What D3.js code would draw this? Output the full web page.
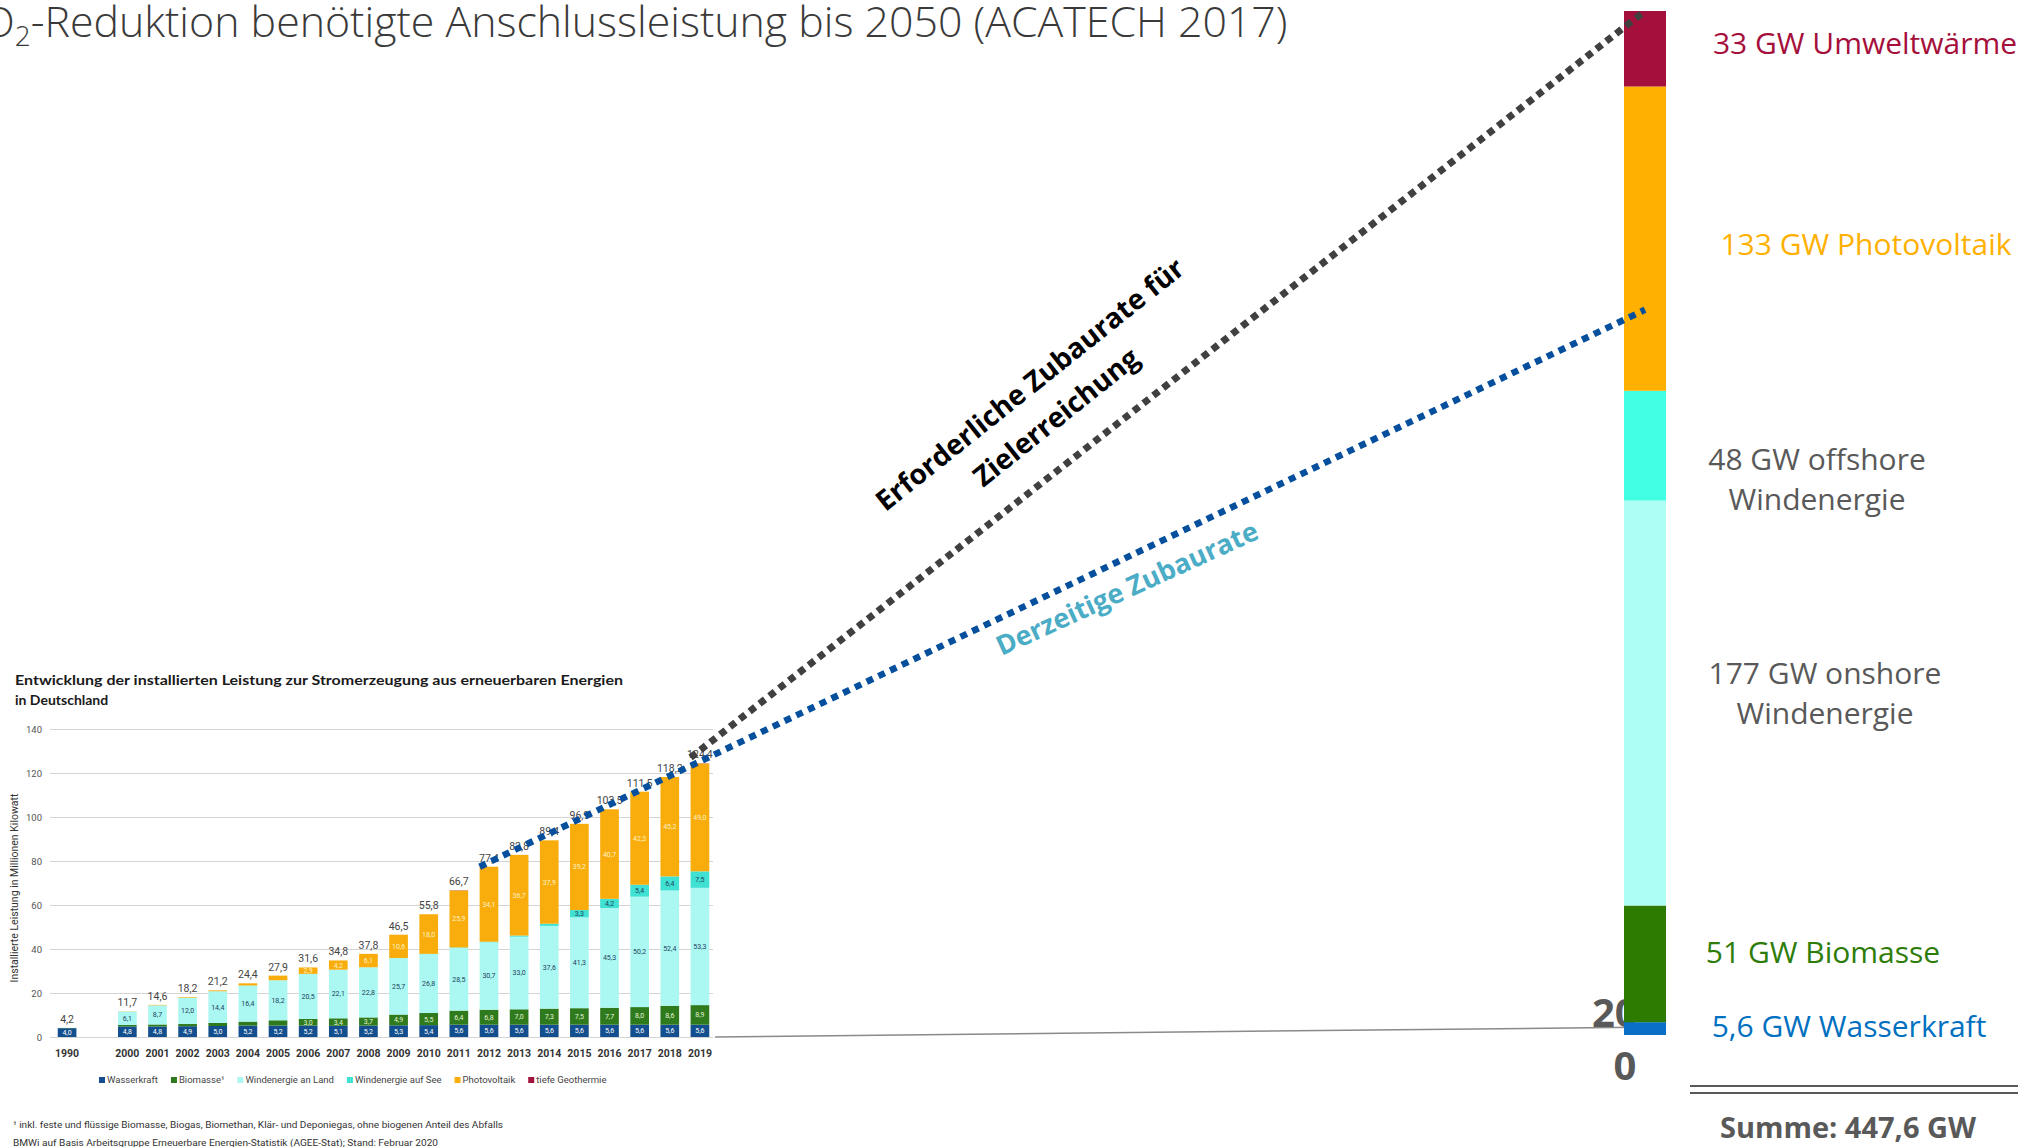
<!DOCTYPE html>
<html>
<head>
<meta charset="utf-8">
<script src="https://cdn.jsdelivr.net/npm/d3@7"></script>
<style>
  body { margin: 0; background: #fff; overflow: hidden; }
  svg { display: block; }
</style>
</head>
<body>
<div id="chart"></div>
<script>
// ---- small BMWi chart: installed capacity 1990, 2000-2019 (GW) ----
var years = ["1990", "2000", "2001", "2002", "2003", "2004", "2005", "2006", "2007", "2008", "2009",
             "2010", "2011", "2012", "2013", "2014", "2015", "2016", "2017", "2018", "2019"];
var wasserkraft = [4.0, 4.8, 4.8, 4.9, 5.0, 5.2, 5.2, 5.2, 5.1, 5.2, 5.3, 5.4, 5.6, 5.6, 5.6, 5.6, 5.6, 5.6, 5.6, 5.6, 5.6];
var biomasse    = [0.1, 0.7, 0.9, 1.0, 1.4, 1.8, 2.4, 3.0, 3.4, 3.7, 4.9, 5.5, 6.4, 6.8, 7.0, 7.3, 7.5, 7.7, 8.0, 8.6, 8.9];
var windLand    = [0.1, 6.1, 8.7, 12.0, 14.4, 16.4, 18.2, 20.5, 22.1, 22.8, 25.7, 26.8, 28.5, 30.7, 33.0, 37.6, 41.3, 45.3, 50.2, 52.4, 53.3];
var windSee     = [0, 0, 0, 0, 0, 0, 0, 0, 0, 0, 0, 0.1, 0.2, 0.2, 0.5, 1.0, 3.3, 4.2, 5.4, 6.4, 7.5];
var photovolt   = [0, 0.1, 0.2, 0.3, 0.4, 1.0, 2.1, 2.9, 4.2, 6.1, 10.6, 18.0, 25.9, 34.1, 36.7, 37.9, 39.2, 40.7, 42.3, 45.2, 49.0];
var geothermie  = [0, 0, 0, 0, 0, 0, 0, 0, 0, 0, 0, 0, 0.1, 0, 0, 0, 0, 0, 0, 0, 0.1];
var totals      = [4.2, 11.7, 14.6, 18.2, 21.2, 24.4, 27.9, 31.6, 34.8, 37.8, 46.5, 55.8, 66.7, 77.4, 82.8, 89.4, 96.9, 103.5, 111.5, 118.2, 124.4];

var seriesKeys   = ["wasser", "bio", "land", "see", "pv", "geo"];
var seriesNames  = ["Wasserkraft", "Biomasse¹", "Windenergie an Land", "Windenergie auf See", "Photovoltaik", "tiefe Geothermie"];
var seriesColors = ["#134f8e", "#2f7a1c", "#aaf8f1", "#3fe1d3", "#f8ad0c", "#a3123d"];
var labelColors  = ["#ffffff", "#e3f3d6", "#23405e", "#23405e", "#fff2c4", "#ffffff"];
var yTicks = [0, 20, 40, 60, 80, 100, 120, 140];

// ---- 2050 target bar (ACATECH 2017), GW ----
var targetKeys   = ["Wasserkraft", "Biomasse", "onshore", "offshore", "Photovoltaik", "Umweltwärme"];
var targetValues = [5.6, 51, 177, 48, 133, 33];
var targetColors = ["#0a6fc6", "#2e7b02", "#adfff5", "#40ffe2", "#ffb000", "#a50f3b"];
var targetLabels = [["5,6 GW Wasserkraft"], ["51 GW Biomasse"], ["177 GW onshore", "Windenergie"],
                    ["48 GW offshore", "Windenergie"], ["133 GW Photovoltaik"], ["33 GW Umweltwärme"]];
var targetLabelColors = ["#0070c0", "#2e7d0a", "#595959", "#595959", "#ffb000", "#a50f3b"];
var targetSum = "Summe: 447,6 GW";

// ---- growth-rate lines: from small chart (year, GW) up to 2050 bar (GW) ----
var trendNames     = ["Erforderliche Zubaurate für|Zielerreichung", "Derzeitige Zubaurate"];
var trendFromYear  = ["2019", "2012"];
var trendFromValue = [127, 77.4];
var trendToValue   = [447.6, 317];
var trendColors    = ["#404040", "#054f9c"];
var trendTextColors = ["#000000", "#4bacc6"];

var W = 2044, H = 1147;
var svg = d3.select("#chart").append("svg")
    .attr("width", W).attr("height", H);
svg.append("rect").attr("width", W).attr("height", H).attr("fill", "#fff");

var fmt = function(v) { return d3.format(".1f")(v).replace(".", ","); };

// ================= small chart =================
var slots = ["1990", "gap"].concat(years.slice(1));
var x = d3.scaleBand().domain(slots).range([52, 715]).paddingInner(0.38).paddingOuter(0.19);
var y = d3.scaleLinear().domain([0, 140]).range([1037, 729]);

var table = years.map(function(yr, i) {
    return {year: yr, wasser: wasserkraft[i], bio: biomasse[i], land: windLand[i],
            see: windSee[i], pv: photovolt[i], geo: geothermie[i], total: totals[i]};
});

var small = svg.append("g").attr("class", "small");

small.append("text").attr("x", 15).attr("y", 685)
    .attr("font-family", "Lato, 'Open Sans', sans-serif").attr("font-weight", 700).attr("font-size", 14)
    .attr("fill", "#1a1a1a").attr("textLength", 608).attr("lengthAdjust", "spacingAndGlyphs")
    .text("Entwicklung der installierten Leistung zur Stromerzeugung aus erneuerbaren Energien");
small.append("text").attr("x", 15).attr("y", 705)
    .attr("font-family", "Lato, 'Open Sans', sans-serif").attr("font-weight", 700).attr("font-size", 14)
    .attr("fill", "#1a1a1a").text("in Deutschland");

var yAxis = d3.axisLeft(y).tickValues(yTicks).tickSize(-663).tickPadding(8);
var gy = small.append("g").attr("transform", "translate(50,0)").call(yAxis);
gy.select(".domain").remove();
gy.selectAll(".tick line").attr("stroke", "#d4d4d4").attr("stroke-width", 1.2);
gy.selectAll(".tick text").attr("font-family", "Roboto, sans-serif").attr("font-size", 9.5).attr("fill", "#555");

small.append("text")
    .attr("transform", "translate(18,888) rotate(-90)")
    .attr("text-anchor", "middle")
    .attr("font-family", "Roboto, sans-serif").attr("font-size", 10.5).attr("fill", "#333")
    .text("Installierte Leistung in Millionen Kilowatt");

var stack = d3.stack().keys(seriesKeys)(table);

var layers = small.selectAll(".layer").data(stack).enter().append("g")
    .attr("class", "layer")
    .attr("fill", function(d, i) { return seriesColors[i]; });

layers.selectAll("rect").data(function(d) { return d; }).enter().append("rect")
    .attr("x", function(d) { return x(d.data.year); })
    .attr("width", x.bandwidth())
    .attr("y", function(d) { return y(d[1]); })
    .attr("height", function(d) { return Math.max(0, y(d[0]) - y(d[1])); });

// value labels inside the segments
stack.forEach(function(layer, li) {
    if (seriesKeys[li] === "geo") return;
    small.selectAll(".lab" + li)
        .data(layer.filter(function(d) {
            var v = d[1] - d[0];
            return li === 0 ? v > 0 : v >= 2.5;
        }))
        .enter().append("text")
        .attr("x", function(d) { return x(d.data.year) + x.bandwidth() / 2; })
        .attr("y", function(d) { return (y(d[0]) + y(d[1])) / 2 + 2.5; })
        .attr("text-anchor", "middle")
        .attr("font-family", "Roboto, sans-serif").attr("font-size", 7)
        .attr("fill", labelColors[li])
        .text(function(d) { return fmt(d[1] - d[0]); });
});

// totals above bars
small.selectAll(".total").data(table).enter().append("text")
    .attr("x", function(d) { return x(d.year) + x.bandwidth() / 2; })
    .attr("y", function(d) { return y(d.total) - 5; })
    .attr("text-anchor", "middle")
    .attr("font-family", "Roboto, sans-serif").attr("font-size", 10.5).attr("fill", "#444")
    .text(function(d) { return fmt(d.total); });

// year labels
small.selectAll(".year").data(years).enter().append("text")
    .attr("x", function(d) { return x(d) + x.bandwidth() / 2; })
    .attr("y", 1057)
    .attr("text-anchor", "middle")
    .attr("font-family", "Roboto, sans-serif").attr("font-weight", 700).attr("font-size", 10.5)
    .attr("fill", "#333")
    .text(function(d) { return d; });

// legend
var lx = 99;
seriesNames.forEach(function(name, i) {
    small.append("rect").attr("x", lx).attr("y", 1077).attr("width", 6).attr("height", 6)
        .attr("fill", seriesColors[i]);
    var t = small.append("text").attr("x", lx + 8).attr("y", 1083)
        .attr("font-family", "Roboto, sans-serif").attr("font-size", 9.5).attr("fill", "#444")
        .text(name);
    lx += 8 + t.node().getComputedTextLength() + 13;
});

// footnote
small.append("text").attr("x", 13).attr("y", 1128)
    .attr("font-family", "Roboto, sans-serif").attr("font-size", 9.5).attr("fill", "#333")
    .attr("textLength", 490).attr("lengthAdjust", "spacingAndGlyphs")
    .text("¹ inkl. feste und flüssige Biomasse, Biogas, Biomethan, Klär- und Deponiegas, ohne biogenen Anteil des Abfalls");
small.append("text").attr("x", 13).attr("y", 1146)
    .attr("font-family", "Roboto, sans-serif").attr("font-size", 9.5).attr("fill", "#333")
    .attr("textLength", 425).attr("lengthAdjust", "spacingAndGlyphs")
    .text("BMWi auf Basis Arbeitsgruppe Erneuerbare Energien-Statistik (AGEE-Stat); Stand: Februar 2020");

// ================= 2050 bar =================
var bx = d3.scaleBand().domain(["2050"]).range([1624, 1666]);
var by = d3.scaleLinear().domain([0, d3.sum(targetValues)]).range([1035, 11]);

// thin axis line linking both charts
svg.append("line")
    .attr("x1", x.range()[1]).attr("y1", y(0))
    .attr("x2", bx("2050") + bx.bandwidth() - 7).attr("y2", by(3.5))
    .attr("stroke", "#8a8a8a").attr("stroke-width", 1.5);

// remnants of the slide axis
svg.append("text").attr("x", 1592).attr("y", 1027)
    .attr("font-family", "'Open Sans', sans-serif").attr("font-weight", 700).attr("font-size", 40)
    .attr("fill", "#595959").text("20");
svg.append("text").attr("x", bx("2050") + 1).attr("y", 1080).attr("text-anchor", "middle")
    .attr("font-family", "'Open Sans', sans-serif").attr("font-weight", 700).attr("font-size", 40)
    .attr("fill", "#595959").text("0");

var cum = 0;
var targetSegs = targetValues.map(function(v, i) {
    var s = {key: targetKeys[i], y0: cum, y1: cum + v, color: targetColors[i]};
    cum += v;
    return s;
});
svg.selectAll(".tseg").data(targetSegs).enter().append("rect")
    .attr("x", bx("2050")).attr("width", bx.bandwidth())
    .attr("y", function(d) { return by(d.y1); })
    .attr("height", function(d) { return by(d.y0) - by(d.y1); })
    .attr("fill", function(d) { return d.color; });

// right-hand labels (x centre, first baseline)
var labelPos = [[1849, 1037], [1823, 963], [1825, 684], [1817, 470], [1866, 255], [1865, 54]];
targetLabels.forEach(function(lines, i) {
    var t = svg.append("text")
        .attr("text-anchor", "middle")
        .attr("font-family", "'Open Sans', sans-serif").attr("font-size", 30)
        .attr("fill", targetLabelColors[i]);
    lines.forEach(function(line, j) {
        t.append("tspan").attr("x", labelPos[i][0]).attr("y", labelPos[i][1] + j * 40).text(line);
    });
});

svg.append("line").attr("x1", 1690).attr("x2", 2018).attr("y1", 1086).attr("y2", 1086)
    .attr("stroke", "#595959").attr("stroke-width", 2);
svg.append("line").attr("x1", 1690).attr("x2", 2018).attr("y1", 1093).attr("y2", 1093)
    .attr("stroke", "#595959").attr("stroke-width", 2);
svg.append("text").attr("x", 1848).attr("y", 1138).attr("text-anchor", "middle")
    .attr("font-family", "'Open Sans', sans-serif").attr("font-weight", 700).attr("font-size", 29)
    .attr("fill", "#595959").text(targetSum);

// ================= trend lines =================
var textPos = [[1036, 392], [1131, 597]];
var textSize = [28, 27];
trendNames.forEach(function(name, i) {
    var x1 = x(trendFromYear[i]), y1 = y(trendFromValue[i]);
    var x2 = bx("2050") + bx.bandwidth() / 2, y2 = by(trendToValue[i]);
    svg.append("line")
        .attr("x1", x1).attr("y1", y1).attr("x2", x2).attr("y2", y2)
        .attr("stroke", trendColors[i]).attr("stroke-width", i === 0 ? 7 : 6.5)
        .attr("stroke-dasharray", i === 0 ? "7 5.5" : "7 6");

    var ang = Math.atan2(y2 - y1, x2 - x1) * 180 / Math.PI;
    var t = svg.append("text")
        .attr("transform", "translate(" + textPos[i][0] + "," + textPos[i][1] + ") rotate(" + (ang - (i === 0 ? 0.6 : -1)) + ")")
        .attr("text-anchor", "middle")
        .attr("font-family", "'Open Sans', sans-serif").attr("font-weight", 700).attr("font-size", textSize[i])
        .attr("fill", trendTextColors[i]);
    name.split("|").forEach(function(line, j) {
        t.append("tspan").attr("x", 0).attr("y", j * 42).text(line);
    });
});

// ================= slide title (cut at the left edge) =================
var title = svg.append("text")
    .attr("font-family", "'Open Sans', sans-serif").attr("font-weight", 300).attr("font-size", 43)
    .attr("fill", "#3a3a3a");
title.append("tspan").text("CO");
title.append("tspan").attr("font-size", 28).attr("dy", 9).text("2");
title.append("tspan").attr("dy", -9).text("-Reduktion benötigte Anschlussleistung bis 2050 (ACATECH 2017)");

var probe = svg.append("text").attr("font-family", "'Open Sans', sans-serif")
    .attr("font-weight", 300).attr("font-size", 43);
probe.text("C");
var cW = probe.node().getComputedTextLength();
probe.text("O");
var oW = probe.node().getComputedTextLength();
probe.remove();
var fullW = title.node().getComputedTextLength();
var hidden = cW + oW * 0.55;
var sx = 1288 / (fullW - hidden);
title.attr("transform", "translate(" + (-sx * hidden) + ",37) scale(" + sx + ",1)");
</script>
</body>
</html>
